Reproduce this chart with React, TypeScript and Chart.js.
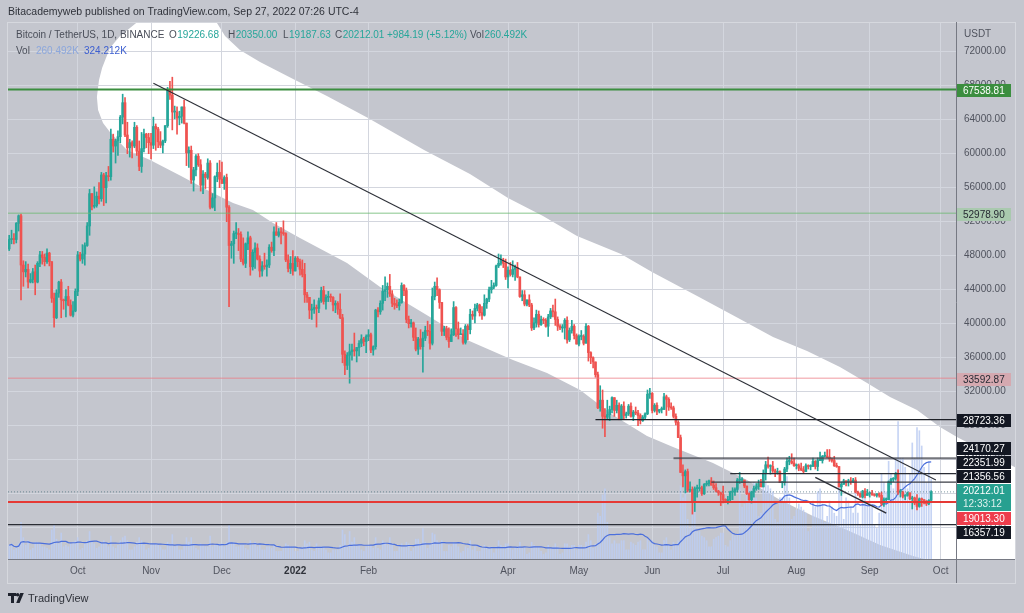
import React, { useEffect, useRef } from 'react';
import { Chart, registerables } from 'chart.js';

Chart.register(...registerables);

// ---------------- data (prices in thousand USDT, volume in thousand BTC) ----------------
const START_DATE = '2021-09-02';
const LAST_VISIBLE_DATE = '2022-10-07';
const FIRST_OPEN_K = 48.8;

const CLOSE_K = [
  49.9, 50.0, 49.9, 51.8, 52.7, 46.9, 46.1, 46.4, 44.9, 45.2, 46.1, 44.9, 47.1, 48.1, 47.8, 47.3, 48.3, 47.3, 43.0, 40.7, 43.6, 44.9, 42.8, 42.7, 43.2, 42.2, 41.0, 41.5, 43.8,
  48.1, 47.6, 48.2, 49.2, 51.5, 55.3, 53.8, 53.9, 55.0, 54.7, 57.5, 56.0, 57.4, 57.3, 61.7, 60.9, 61.5, 62.0, 64.3, 66.0, 62.2, 60.7, 61.3, 60.9, 63.1, 60.3, 58.5, 60.6, 62.3, 61.9, 61.3,
  61.0, 63.2, 62.9, 61.4, 61.0, 61.5, 63.3, 67.5, 66.9, 64.9, 64.9, 64.2, 64.4, 65.5, 63.6, 60.1, 60.4, 56.9, 58.1, 59.7, 58.7, 56.3, 57.6, 57.2, 58.9, 53.7, 54.8, 57.3, 57.8, 57.0,
  56.5, 57.2, 53.7, 49.2, 49.4, 50.6, 50.6, 50.5, 47.6, 47.1, 49.4, 50.1, 46.7, 48.4, 48.9, 47.6, 46.2, 46.8, 46.7, 46.9, 49.0, 48.6, 50.8, 50.4, 50.8, 50.7, 50.6, 47.5, 46.5, 47.1, 46.2,
  47.7, 47.3, 46.4, 45.8, 43.4, 43.1, 41.6, 41.7, 41.9, 41.8, 42.7, 43.9, 42.6, 43.1, 43.2, 43.1, 42.2, 42.4, 41.7, 40.7, 36.4, 35.1, 36.3, 36.7, 36.9, 36.8, 37.2, 37.7, 38.2, 37.9, 38.5,
  38.7, 36.9, 37.3, 41.6, 41.4, 42.4, 43.8, 44.0, 44.4, 43.5, 42.4, 42.2, 42.1, 42.5, 44.5, 43.9, 40.5, 40.0, 40.1, 38.4, 37.0, 38.2, 37.3, 38.3, 39.2, 39.1, 37.7, 43.2,
  44.4, 44.0, 42.5, 39.1, 39.4, 38.4, 37.9, 38.7, 41.9, 39.4, 38.7, 38.8, 37.8, 39.7, 39.3, 41.1, 40.9, 41.8, 42.2, 41.3, 41.0, 42.4, 42.9, 44.0, 44.3, 44.5, 46.8, 47.1, 47.4, 47.1, 45.5,
  46.3, 45.8, 46.4, 46.6, 45.5, 43.2, 43.4, 42.3, 42.8, 42.2, 39.5, 40.1, 41.1, 39.9, 40.5, 40.4, 39.7, 40.8, 41.5, 41.4, 40.5, 39.7, 39.5, 39.5, 40.4, 38.1, 39.2, 39.7, 38.6, 37.6,
  38.5, 38.5, 37.7, 39.7, 36.6, 36.0, 35.5, 34.0, 30.1, 31.0, 29.1, 29.0, 29.3, 29.9, 31.3, 29.8, 30.4, 28.7, 30.3, 29.2, 29.4, 30.3, 29.1, 29.6, 29.5, 29.2, 28.6, 29.0, 29.4, 31.7, 31.8,
  29.8, 30.4, 29.7, 29.9, 29.9, 31.4, 31.1, 30.2, 30.1, 29.1, 28.4, 26.6, 22.5, 22.1, 22.6, 20.4, 20.5, 19.0, 20.6, 20.6, 20.7, 20.0, 21.1, 21.2, 21.5, 21.0, 20.7, 20.3, 20.1, 19.9,
  19.3, 19.2, 19.3, 20.2, 20.2, 20.5, 21.6, 21.6, 21.6, 20.9, 20.0, 19.3, 20.2, 20.6, 20.8, 21.2, 20.8, 22.4, 23.4, 23.2, 23.2, 22.7, 22.5, 22.6, 21.3, 21.3, 22.9, 23.8, 23.8, 23.6, 23.3,
  23.3, 23.0, 22.8, 22.6, 23.3, 23.2, 23.2, 23.8, 23.2, 23.9, 23.9, 24.4, 24.4, 24.3, 24.1, 23.9, 23.3, 23.2, 20.8, 21.1, 21.5, 21.4, 21.5, 21.4, 21.6, 20.2, 20.0, 19.6, 20.3, 19.8, 20.0,
  20.1, 19.9, 19.8, 20.0, 19.8, 18.8, 19.3, 19.3, 21.4, 21.7, 21.8, 22.4, 20.2, 20.2, 19.7, 19.8, 20.1, 19.4, 19.5, 18.9, 18.5, 19.4, 19.3, 18.9, 18.8, 19.22668, 20.21201,
];

const HIGH_K = [
  50.4, 51.0, 50.6, 51.9, 52.8, 52.9, 47.4, 47.3, 47.0, 45.9, 46.5, 46.9, 47.3, 48.5, 48.5, 48.2, 48.8, 48.4, 47.3, 43.6, 44.0, 45.0, 45.2, 42.9, 44.0, 44.4, 42.8, 42.6, 44.1,
  48.5, 48.4, 49.3, 49.5, 51.9, 55.8, 55.3, 56.1, 55.5, 56.6, 57.8, 57.7, 57.8, 58.5, 62.9, 62.3, 61.7, 62.7, 64.5, 67.0, 66.6, 63.7, 61.7, 61.5, 63.7, 63.3, 61.5, 62.5, 62.9, 62.4, 62.4,
  62.4, 64.3, 63.5, 63.1, 62.6, 61.6, 63.3, 67.8, 68.5, 69.0, 65.6, 65.5, 65.0, 65.5, 66.3, 63.6, 60.8, 60.9, 58.4, 59.9, 60.0, 59.3, 58.0, 57.8, 59.4, 59.2, 55.3, 57.4, 58.9, 59.2,
  59.0, 57.4, 57.6, 53.9, 49.7, 50.9, 51.9, 51.2, 50.8, 50.1, 49.5, 50.8, 50.3, 48.7, 49.5, 49.4, 48.0, 47.3, 48.3, 47.5, 49.3, 49.6, 51.4, 51.9, 51.2, 51.3, 52.1, 50.7, 48.1, 47.9, 48.6,
  47.9, 47.9, 47.6, 47.5, 47.1, 43.7, 43.1, 42.3, 42.8, 42.2, 43.0, 44.3, 44.4, 43.4, 43.8, 43.5, 43.2, 42.7, 42.6, 43.5, 41.1, 36.8, 36.6, 37.6, 37.6, 38.9, 37.2, 38.0, 38.7, 38.4, 38.7,
  39.3, 38.9, 37.4, 41.7, 41.9, 42.7, 44.5, 45.5, 44.8, 45.8, 43.9, 43.0, 42.8, 42.9, 44.8, 44.6, 44.2, 40.9, 40.5, 40.2, 39.5, 38.4, 39.3, 39.0, 39.7, 40.3, 39.9, 44.2,
  44.9, 45.4, 44.1, 42.5, 39.7, 39.7, 39.5, 39.4, 42.6, 42.0, 40.2, 39.5, 39.3, 39.9, 39.9, 41.7, 41.5, 42.3, 42.4, 42.3, 42.0, 43.4, 43.0, 44.3, 45.1, 44.8, 46.9, 48.2, 48.1, 47.7, 47.6,
  46.7, 47.2, 47.4, 46.9, 47.2, 45.5, 43.9, 43.9, 42.8, 43.4, 42.4, 40.7, 41.6, 41.5, 40.9, 40.7, 40.6, 41.1, 41.8, 42.2, 42.9, 40.8, 39.9, 39.9, 40.6, 40.8, 39.5, 40.4, 39.9, 38.8,
  38.7, 39.2, 38.7, 40.0, 39.8, 36.7, 36.1, 35.5, 34.3, 32.7, 32.2, 30.0, 31.0, 30.3, 31.4, 31.3, 31.0, 30.7, 30.5, 30.8, 29.6, 30.5, 30.7, 29.8, 30.2, 29.8, 29.4, 29.2, 29.5, 32.2, 32.4,
  31.9, 30.6, 30.7, 29.9, 30.2, 31.8, 31.6, 31.3, 30.7, 30.3, 29.4, 28.6, 26.9, 23.4, 22.8, 22.9, 21.4, 20.8, 20.8, 21.0, 21.7, 20.9, 21.2, 21.5, 21.6, 21.9, 21.5, 21.2, 20.4, 20.2,
  20.9, 19.4, 19.7, 20.3, 20.7, 20.7, 21.8, 22.5, 21.9, 21.6, 20.9, 20.1, 20.3, 20.9, 21.2, 21.6, 21.7, 22.8, 23.8, 24.3, 23.4, 23.8, 22.9, 23.0, 22.7, 21.4, 23.1, 24.2, 24.4, 24.7, 24.2,
  23.5, 23.5, 23.6, 23.2, 23.5, 23.4, 23.4, 24.2, 23.9, 24.2, 24.9, 24.5, 24.9, 25.2, 25.2, 24.2, 24.4, 23.6, 23.2, 21.4, 21.7, 21.5, 21.7, 21.9, 21.8, 21.9, 20.3, 20.1, 20.4, 20.6, 20.5,
  20.2, 20.4, 20.0, 20.0, 20.1, 20.2, 19.5, 19.5, 21.5, 21.8, 21.9, 22.5, 22.8, 20.5, 20.3, 19.9, 20.2, 20.1, 19.7, 19.6, 19.9, 19.5, 19.5, 19.3, 19.2, 19.3, 20.35,
];

const LOW_K = [
  48.6, 49.4, 49.4, 49.5, 50.9, 42.8, 44.4, 45.5, 44.2, 44.8, 44.8, 43.4, 44.8, 46.7, 47.0, 46.8, 47.1, 46.8, 42.5, 39.6, 40.6, 43.1, 40.7, 41.7, 40.8, 42.1, 40.9, 40.8, 41.4,
  43.3, 47.4, 47.1, 46.9, 49.1, 50.4, 53.4, 53.6, 53.7, 54.1, 54.4, 53.9, 54.2, 56.8, 56.9, 60.2, 58.9, 59.8, 61.3, 63.5, 62.0, 60.0, 59.6, 59.5, 60.7, 59.8, 58.0, 57.8, 60.2, 60.7, 60.0,
  59.4, 60.6, 60.4, 60.7, 60.7, 60.1, 61.3, 63.1, 66.4, 62.8, 64.1, 62.3, 63.4, 63.6, 63.5, 58.6, 58.4, 56.5, 55.6, 57.4, 58.5, 55.6, 55.3, 55.9, 57.0, 53.5, 53.6, 53.3, 56.7, 56.0,
  56.5, 55.8, 52.0, 42.0, 47.7, 47.1, 50.0, 48.6, 47.3, 46.9, 46.6, 48.7, 45.7, 46.3, 46.5, 47.5, 45.5, 45.6, 46.4, 45.6, 46.6, 48.4, 48.0, 50.4, 50.2, 49.4, 50.4, 47.3, 46.1, 45.9, 45.7,
  46.2, 46.7, 45.7, 45.5, 42.5, 42.5, 40.6, 40.5, 41.2, 39.6, 41.3, 42.5, 42.3, 41.7, 42.6, 42.6, 41.5, 41.3, 41.1, 40.6, 35.4, 34.0, 34.6, 33.0, 35.7, 36.2, 35.5, 36.2, 37.3, 37.4, 36.6,
  38.0, 36.6, 36.3, 37.0, 40.8, 41.1, 41.6, 42.7, 43.1, 43.2, 42.0, 41.7, 41.9, 41.6, 42.4, 43.3, 40.1, 39.5, 39.6, 38.0, 36.8, 36.4, 37.0, 34.3, 38.0, 38.6, 37.0, 37.5,
  42.8, 43.3, 41.8, 38.6, 38.6, 38.1, 37.2, 37.9, 38.6, 38.5, 38.2, 38.7, 37.6, 37.6, 38.1, 38.8, 40.5, 40.1, 41.5, 40.9, 40.5, 40.9, 41.8, 42.6, 43.6, 44.1, 44.4, 46.6, 46.9, 46.6, 45.2,
  44.2, 45.6, 45.5, 45.1, 45.4, 43.1, 42.7, 42.1, 42.1, 42.0, 39.2, 39.3, 39.6, 39.6, 39.8, 40.0, 39.6, 38.5, 40.6, 40.8, 39.8, 39.2, 39.3, 39.0, 38.2, 37.7, 37.9, 38.9, 38.2, 37.6,
  37.4, 38.1, 37.5, 37.7, 35.6, 35.3, 34.8, 33.7, 30.0, 29.7, 27.7, 26.7, 28.7, 28.6, 29.5, 29.1, 29.5, 28.7, 28.7, 28.7, 28.9, 29.2, 29.0, 28.6, 29.3, 28.0, 28.2, 28.5, 28.8, 29.3, 31.2,
  29.5, 29.6, 29.3, 29.5, 29.5, 29.9, 29.2, 29.8, 29.9, 28.9, 28.1, 26.6, 22.6, 20.8, 20.1, 20.2, 20.2, 17.6, 17.9, 19.6, 20.3, 19.8, 19.9, 20.9, 20.9, 21.0, 20.5, 20.2, 19.8, 18.6,
  18.9, 19.0, 18.8, 19.0, 19.3, 19.8, 20.2, 21.2, 21.3, 20.7, 19.9, 19.2, 18.9, 19.6, 20.4, 20.5, 20.8, 20.8, 21.6, 23.0, 22.3, 22.5, 22.0, 22.3, 21.3, 20.7, 21.0, 22.6, 23.4, 23.5, 23.2,
  22.9, 22.7, 22.7, 22.4, 22.6, 22.9, 22.8, 23.2, 22.9, 22.7, 23.9, 23.6, 24.3, 24.2, 23.8, 23.7, 23.2, 23.1, 20.8, 19.8, 21.1, 20.9, 20.9, 21.1, 21.3, 20.1, 19.8, 19.6, 19.5, 19.5, 19.8,
  19.6, 19.8, 19.7, 19.6, 19.6, 18.6, 18.5, 19.0, 19.3, 21.1, 21.4, 21.6, 19.9, 19.6, 19.5, 19.3, 19.7, 19.3, 18.2, 18.7, 18.1, 18.4, 18.5, 18.8, 18.6, 18.7, 19.18763,
];

const VOLUME_K = [
  45, 50, 30, 35, 50, 120, 70, 45, 60, 30, 35, 55, 55, 50, 40, 40, 35, 30, 95, 110, 65, 50, 85, 40, 45, 40, 50, 55, 60,
  70, 30, 35, 50, 60, 90, 55, 50, 35, 40, 55, 60, 50, 40, 75, 40, 35, 45, 60, 70, 75, 60, 30, 30, 40, 55, 70, 60, 45, 30, 35,
  45, 50, 50, 45, 40, 30, 30, 55, 50, 80, 40, 45, 30, 30, 45, 70, 55, 70, 50, 35, 30, 50, 45, 40, 40, 75, 40, 45, 45, 50,
  50, 40, 55, 110, 55, 55, 40, 40, 45, 45, 35, 30, 60, 45, 55, 40, 45, 30, 30, 40, 40, 35, 45, 25, 25, 25, 35, 50, 45, 40, 40,
  25, 25, 35, 40, 60, 50, 55, 30, 25, 50, 40, 40, 40, 30, 20, 20, 30, 30, 30, 45, 95, 80, 40, 90, 55, 70, 45, 45, 30, 25, 40,
  40, 45, 35, 70, 35, 30, 60, 55, 45, 70, 50, 25, 25, 40, 50, 40, 55, 50, 25, 35, 65, 65, 50, 100, 55, 35, 50, 85,
  80, 60, 50, 60, 25, 25, 45, 40, 55, 50, 40, 20, 25, 40, 35, 60, 30, 40, 25, 25, 35, 45, 35, 40, 40, 20, 40, 60, 45, 40, 50,
  50, 35, 30, 35, 40, 55, 35, 40, 15, 20, 55, 45, 40, 40, 25, 15, 20, 45, 35, 40, 50, 40, 15, 20, 50, 50, 40, 45, 45, 30,
  45, 45, 40, 55, 80, 60, 35, 50, 150, 140, 210, 230, 120, 70, 50, 60, 50, 50, 60, 60, 30, 30, 55, 50, 45, 55, 60, 30, 30, 65, 55,
  60, 45, 40, 20, 20, 60, 70, 45, 30, 55, 45, 60, 240, 200, 220, 130, 100, 220, 160, 90, 90, 75, 70, 60, 40, 40, 65, 70, 75, 85,
  85, 45, 40, 60, 80, 75, 80, 230, 170, 180, 220, 230, 230, 250, 200, 140, 150, 260, 250, 240, 230, 220, 130, 120, 200, 200, 280, 270, 200, 130, 140,
  160, 180, 170, 160, 150, 90, 100, 190, 170, 220, 230, 180, 120, 140, 190, 170, 150, 140, 260, 210, 130, 200, 190, 170, 150, 250, 150, 110, 200, 200, 170,
  190, 170, 110, 100, 150, 280, 250, 220, 320, 280, 230, 330, 450, 330, 330, 300, 230, 280, 380, 330, 430, 420, 370, 300, 250, 320, 260,
];
const VOLUME_MA_LENGTH = 20;

const MONTH_TICK_DATES = ['2021-10-01', '2021-11-01', '2021-12-01', '2022-01-01', '2022-02-01', '2022-04-01', '2022-05-01', '2022-06-01', '2022-07-01', '2022-08-01', '2022-09-01', '2022-10-01'];
const MONTH_TICK_LABELS = ['Oct', 'Nov', 'Dec', '2022', 'Feb', 'Apr', 'May', 'Jun', 'Jul', 'Aug', 'Sep', 'Oct'];
const PRICE_TICKS = [16000, 20000, 24000, 28000, 32000, 36000, 40000, 44000, 48000, 52000, 56000, 60000, 64000, 68000, 72000];

const LEVEL_PRICES = [67538.81, 52978.9, 33592.87, 28723.36, 24170.27, 22351.99, 21356.56, 19013.3, 16357.19];
const LEVEL_FROM: (string | null)[] = [null, null, null, '2022-05-08', '2022-06-10', '2022-07-04', '2022-06-26', null, null];

const TREND_FROM = ['2021-11-02', '2022-08-09'];
const TREND_FROM_PRICE = [68300, 21930];
const TREND_TO = ['2022-09-29', '2022-09-08'];
const TREND_TO_PRICE = [21600, 17700];

const LAST_PRICE = 20212.01;
const COUNTDOWN = '12:33:12';

// hand-drawn white highlighter band: [days since START_DATE, price]
const BAND_UPPER = [
  [37.1, 66670], [38.0, 68670], [39.3, 70080], [42.6, 72435], [46.9, 73850], [51.1, 74790], [55.3, 75730], [63.8, 76320],
  [80.7, 76320], [87.1, 75730], [91.3, 73850], [97.6, 72200], [106.1, 70790], [120.1, 68790], [134.4, 66790], [151.8, 64200],
  [175.5, 60435], [194.9, 57610], [211.0, 54790], [225.8, 52670], [240.2, 50320], [258.8, 48200], [271.9, 46080], [291.8, 43140],
  [309.1, 40550], [323.1, 38435], [337.5, 36790], [351.4, 34905], [362.9, 33025], [372.6, 31375], [384.0, 29850], [393.7, 27850],
  [400.9, 26670], [431.8, 22200],
];
const BAND_LOWER = [
  [37.6, 65140], [39.7, 63610], [42.6, 62550], [49.8, 60435], [59.6, 59260], [73.5, 57260], [83.7, 55730], [94.7, 54200],
  [103.1, 53375], [111.6, 51850], [123.0, 50080], [142.9, 47140], [156.9, 44320], [178.0, 40790], [193.7, 38080], [213.1, 35730],
  [227.5, 34200], [241.5, 32200], [255.4, 29260], [269.8, 26790], [280.8, 25495], [297.7, 23610], [312.1, 21610], [326.1, 19260],
  [340.0, 17375], [354.4, 15730], [368.4, 13965], [382.3, 12670], [398.0, 11495], [431.8, 8670],
];

const HEADER_TOP = 'Bitacademyweb published on TradingView.com, Sep 27, 2022 07:26 UTC-4';
const HEADER_TITLE = 'Bitcoin / TetherUS, 1D, BINANCE';
const HEADER_OHLC = [['O', '19226.68'], ['H', '20350.00'], ['L', '19187.63'], ['C', '20212.01']];
const HEADER_CHANGE = '+984.19 (+5.12%)';
const HEADER_VOL = '260.492K';
const HEADER_VOL_MA = '324.212K';

// ---------------- styles ----------------
const FONT = "'Liberation Sans', Arial, sans-serif";
const BG = '#c4c6ce';
const GRID = '#d3d6de';
const UP = '#26a69a';
const DOWN = '#ef5350';
const TEXT = '#4a4e59';
const Y_MIN = 12317;
const Y_MAX = 75376;
const VOL_AXIS_MAX = 1755;
const FRAME_RIGHT = 1015;

const LEVEL_STYLE = [
  { color: '#3b8e3f', width: 2, box: '#3b8e3f', text: '#ffffff' },
  { color: 'rgba(110,185,115,0.55)', width: 1.5, box: '#a9c9ae', text: '#262a33' },
  { color: 'rgba(235,120,130,0.5)', width: 1.5, box: '#d5a9b0', text: '#262a33' },
  { color: '#1e2128', width: 1.3, box: '#131722', text: '#ffffff' },
  { color: 'rgba(70,72,80,0.75)', width: 2, box: '#131722', text: '#ffffff' },
  { color: '#2a2d35', width: 1.3, box: '#131722', text: '#ffffff' },
  { color: '#3a3d45', width: 1.3, box: '#131722', text: '#ffffff' },
  { color: '#e53935', width: 2, box: '#ee3d4c', text: '#ffffff' },
  { color: '#2a2d35', width: 1.3, box: '#131722', text: '#ffffff' },
];

const DAY = 86400000;
const dayIndex = (d: string) =>
  Math.round((Date.parse(d + 'T00:00:00Z') - Date.parse(START_DATE + 'T00:00:00Z')) / DAY);
const X_MIN = -0.5;
const X_MAX = dayIndex(LAST_VISIBLE_DATE) + 0.5;

const scenePlugin = {
  id: 'scene',
  beforeDraw(chart: any) {
    const { ctx, chartArea, scales } = chart;
    const x = scales.x, y = scales.y;
    ctx.save();
    ctx.fillStyle = BG;
    ctx.fillRect(0, 0, chart.width, chart.height);
    ctx.beginPath();
    ctx.rect(chartArea.left, chartArea.top, FRAME_RIGHT - chartArea.left, chartArea.bottom - chartArea.top);
    ctx.clip();
    ctx.beginPath();
    BAND_UPPER.forEach(([d, p], i) => {
      const px = x.getPixelForValue(d), py = y.getPixelForValue(p);
      if (i === 0) ctx.moveTo(px, py); else ctx.lineTo(px, py);
    });
    [...BAND_LOWER].reverse().forEach(([d, p]) => ctx.lineTo(x.getPixelForValue(d), y.getPixelForValue(p)));
    ctx.closePath();
    ctx.fillStyle = '#ffffff';
    ctx.fill();
    ctx.restore();
  },
  afterDraw(chart: any) {
    const { ctx, chartArea, scales } = chart;
    const y = scales.y;
    ctx.save();
    // frame
    ctx.strokeStyle = '#d6d8de';
    ctx.lineWidth = 1;
    ctx.strokeRect(7.5, 22.5, FRAME_RIGHT - 7, 583 - 22);
    ctx.strokeStyle = '#767983';
    ctx.beginPath();
    ctx.moveTo(chartArea.right + 0.5, 22);
    ctx.lineTo(chartArea.right + 0.5, 583);
    ctx.moveTo(chartArea.left, chartArea.bottom + 0.5);
    ctx.lineTo(FRAME_RIGHT, chartArea.bottom + 0.5);
    ctx.stroke();

    ctx.textBaseline = 'middle';
    ctx.font = `10px ${FONT}`;
    ctx.fillStyle = '#50535e';
    ctx.fillText('USDT', chartArea.right + 8, 34);

    // price labels on axis with overlap resolution
    const items: any[] = LEVEL_PRICES.map((p, i) => ({
      text: p.toFixed(2), sub: null, bg: LEVEL_STYLE[i].box, fg: LEVEL_STYLE[i].text,
      want: y.getPixelForValue(p), slot: 14,
    }));
    items.push({ text: LAST_PRICE.toFixed(2), sub: COUNTDOWN, bg: '#27a090', fg: '#ffffff', want: y.getPixelForValue(LAST_PRICE) + 7, slot: 28 });
    items.sort((a, b) => a.want - b.want);
    let groups = items.map((it) => ({ items: [it], center: it.want, h: it.slot }));
    let changed = true;
    while (changed) {
      changed = false;
      for (let i = 0; i < groups.length - 1; i++) {
        const a = groups[i], b = groups[i + 1];
        if (a.center + a.h / 2 > b.center - b.h / 2) {
          const its = [...a.items, ...b.items];
          const center = its.reduce((s, it) => s + it.want, 0) / its.length;
          groups.splice(i, 2, { items: its, center, h: a.h + b.h });
          changed = true;
          break;
        }
      }
    }
    const bx = chartArea.right + 1;
    groups.forEach((g) => {
      let top = g.center - g.h / 2 + 1.5;
      g.items.forEach((it: any) => {
        ctx.fillStyle = it.bg;
        ctx.fillRect(bx, Math.round(top), 54, it.slot - 1);
        ctx.fillStyle = it.fg;
        ctx.font = `10px ${FONT}`;
        ctx.fillText(it.text, bx + 6, Math.round(top) + 7);
        if (it.sub) {
          ctx.fillStyle = 'rgba(255,255,255,0.85)';
          ctx.fillText(it.sub, bx + 6, Math.round(top) + 20);
        }
        top += it.slot;
      });
    });

    // header
    ctx.font = `10.5px ${FONT}`;
    ctx.fillStyle = '#2f323a';
    ctx.fillText(HEADER_TOP, 8, 12);
    ctx.font = `10px ${FONT}`;
    ctx.fillStyle = TEXT;
    ctx.fillText(HEADER_TITLE, 16, 35);
    const starts = [169, 228, 283, 335];
    HEADER_OHLC.forEach(([k, v], i) => {
      ctx.fillStyle = TEXT;
      ctx.fillText(k, starts[i], 35);
      const w = ctx.measureText(k).width;
      ctx.fillStyle = UP;
      ctx.fillText(v, starts[i] + w + 0.5, 35);
    });
    ctx.fillStyle = UP;
    ctx.fillText(HEADER_CHANGE, 387, 35);
    ctx.fillStyle = TEXT;
    ctx.fillText('Vol', 470, 35);
    ctx.fillStyle = UP;
    ctx.fillText(HEADER_VOL, 470 + ctx.measureText('Vol').width + 0.5, 35);
    ctx.fillStyle = TEXT;
    ctx.fillText('Vol', 16, 51);
    ctx.fillStyle = '#8ca7dc';
    ctx.fillText(HEADER_VOL, 36, 51);
    ctx.fillStyle = '#3d5fd0';
    ctx.fillText(HEADER_VOL_MA, 84, 51);

    // footer logo
    ctx.fillStyle = '#1e222d';
    ctx.fillRect(8, 593, 8, 3);
    ctx.fillRect(11, 593, 3, 10);
    ctx.beginPath();
    ctx.arc(17.6, 594.8, 1.8, 0, Math.PI * 2);
    ctx.fill();
    ctx.beginPath();
    ctx.moveTo(20.2, 593);
    ctx.lineTo(23.8, 593);
    ctx.lineTo(19.6, 603);
    ctx.lineTo(16.2, 603);
    ctx.closePath();
    ctx.fill();
    ctx.font = `11px ${FONT}`;
    ctx.fillStyle = '#2f323a';
    ctx.fillText('TradingView', 28, 598.5);
    ctx.restore();
  },
};

export default function App() {
  const canvasRef = useRef<HTMLCanvasElement | null>(null);

  useEffect(() => {
    const canvas = canvasRef.current;
    if (!canvas) return;

    const opens = CLOSE_K.map((c, i) => (i === 0 ? FIRST_OPEN_K : CLOSE_K[i - 1]));
    const bodies = CLOSE_K.map((c, i) => ({ x: i, y: [opens[i] * 1000, c * 1000] }));
    const bodyColors = CLOSE_K.map((c, i) => (c >= opens[i] ? UP : DOWN));
    const wicks = CLOSE_K.map((c, i) => ({
      x: i,
      y: [Math.min(LOW_K[i], opens[i], c) * 1000, Math.max(HIGH_K[i], opens[i], c) * 1000],
    }));
    const volumes = VOLUME_K.map((v, i) => ({ x: i, y: v }));
    const volMA = VOLUME_K.map((v, i) => {
      const from = Math.max(0, i - VOLUME_MA_LENGTH + 1);
      const win = VOLUME_K.slice(from, i + 1);
      return { x: i, y: win.reduce((s, a) => s + a, 0) / win.length };
    });

    const levelSets = LEVEL_PRICES.map((p, i) => ({
      type: 'line',
      yAxisID: 'y',
      data: [
        { x: LEVEL_FROM[i] ? dayIndex(LEVEL_FROM[i] as string) : X_MIN, y: p },
        { x: X_MAX, y: p },
      ],
      borderColor: LEVEL_STYLE[i].color,
      borderWidth: LEVEL_STYLE[i].width,
      pointRadius: 0,
      fill: false,
      order: 20,
    }));
    const trendSets = TREND_FROM.map((d, i) => ({
      type: 'line',
      yAxisID: 'y',
      data: [
        { x: dayIndex(d), y: TREND_FROM_PRICE[i] },
        { x: dayIndex(TREND_TO[i]), y: TREND_TO_PRICE[i] },
      ],
      borderColor: '#2c2f37',
      borderWidth: i === 0 ? 1.1 : 1.4,
      pointRadius: 0,
      fill: false,
      order: 10,
    }));

    const labelFor = (v: number) => {
      const idx = MONTH_TICK_DATES.findIndex((d) => dayIndex(d) === Math.round(v));
      return idx >= 0 ? MONTH_TICK_LABELS[idx] : null;
    };

    const chart = new Chart(canvas, {
      type: 'bar',
      data: {
        datasets: [
          ...trendSets,
          ...levelSets,
          {
            type: 'line', yAxisID: 'y',
            data: [{ x: X_MIN, y: LAST_PRICE }, { x: X_MAX, y: LAST_PRICE }],
            borderColor: 'rgba(70,110,120,0.7)', borderWidth: 1, borderDash: [1, 2],
            pointRadius: 0, fill: false, order: 35,
          },
          {
            type: 'bar', yAxisID: 'y', data: bodies, backgroundColor: bodyColors,
            barThickness: 2, grouped: false, minBarLength: 1, borderWidth: 0, order: 30,
          },
          {
            type: 'bar', yAxisID: 'y', data: wicks, backgroundColor: bodyColors,
            barThickness: 1, grouped: false, borderWidth: 0, order: 40,
          },
          {
            type: 'line', yAxisID: 'y2', data: volMA, borderColor: '#4b6fdc', borderWidth: 1.2,
            pointRadius: 0, fill: false, tension: 0, order: 50,
          },
          {
            type: 'bar', yAxisID: 'y2', data: volumes, backgroundColor: 'rgba(188,204,242,0.85)',
            barThickness: 1, grouped: false, borderWidth: 0, order: 60,
          },
        ] as any,
      },
      options: {
        responsive: false,
        animation: false,
        devicePixelRatio: 1,
        events: [],
        layout: { padding: { left: 8, top: 23, right: 0, bottom: 0 } },
        plugins: { legend: { display: false }, tooltip: { enabled: false } },
        scales: {
          x: {
            type: 'linear',
            min: X_MIN,
            max: X_MAX,
            offset: false,
            afterFit: (s: any) => { s.height = 54; },
            afterBuildTicks: (s: any) => { s.ticks = MONTH_TICK_DATES.map((d) => ({ value: dayIndex(d) })); },
            grid: { color: GRID, drawTicks: false, offset: false },
            border: { display: false },
            ticks: {
              autoSkip: false,
              maxRotation: 0,
              minRotation: 0,
              padding: 6,
              color: (c: any) => (c.tick && c.tick.label === '2022' ? '#2f323a' : '#50535e'),
              font: (c: any) => ({ family: FONT, size: 10, weight: c.tick && c.tick.label === '2022' ? 'bold' : 'normal' }),
              callback: (v: any) => labelFor(Number(v)),
            },
          },
          y: {
            type: 'linear',
            position: 'right',
            min: Y_MIN,
            max: Y_MAX,
            afterFit: (s: any) => { s.width = 68; },
            afterBuildTicks: (s: any) => { s.ticks = PRICE_TICKS.map((v) => ({ value: v })); },
            grid: { color: GRID, drawTicks: false },
            border: { display: false },
            ticks: {
              padding: 8,
              color: '#50535e',
              font: { family: FONT, size: 10 },
              callback: (v: any) => Number(v).toFixed(2),
            },
          },
          y2: { type: 'linear', display: false, min: 0, max: VOL_AXIS_MAX },
        },
      } as any,
      plugins: [scenePlugin],
    });

    return () => chart.destroy();
  }, []);

  return (
    <div style={{ position: 'fixed', left: 0, top: 0, width: 1024, height: 613, background: BG }}>
      <canvas ref={canvasRef} width={1024} height={613} style={{ display: 'block' }} />
    </div>
  );
}
